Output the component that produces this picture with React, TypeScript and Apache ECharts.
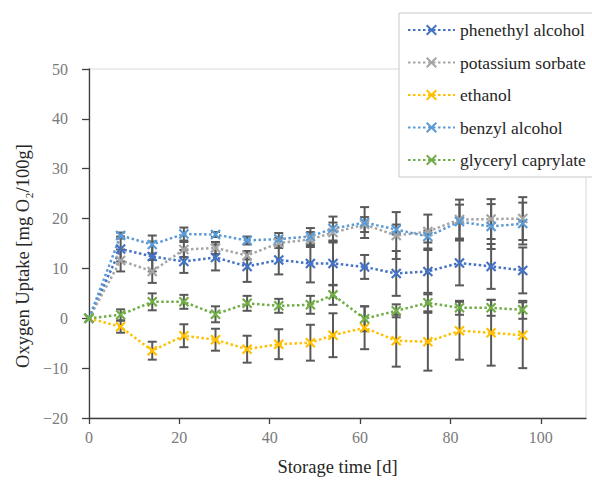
import React, { useEffect, useRef } from "react";
import * as echarts from "echarts";

const days = [0, 7, 14, 21, 28, 35, 42, 49, 54, 61, 68, 75, 82, 89, 96];

const phenethyl = [0, 13.9, 12.4, 11.4, 12.2, 10.4, 11.7, 11.0, 11.0, 10.3, 9.0, 9.4, 11.1, 10.4, 9.6];
const phenethylErr = [0, 2.5, 3.0, 2.3, 2.6, 3.1, 2.9, 3.8, 4.4, 2.4, 4.5, 4.3, 4.5, 4.5, 4.6];

const potassium = [0, 11.6, 9.4, 13.8, 14.1, 12.6, 15.1, 15.8, 17.2, 18.8, 16.6, 17.4, 19.8, 19.9, 20.0];
const potassiumErr = [0, 2.2, 2.3, 1.5, 1.2, 0.8, 1.0, 1.5, 2.0, 1.5, 4.7, 3.4, 4.0, 4.0, 4.3];

const ethanol = [0, -1.7, -6.5, -3.5, -4.3, -6.2, -5.2, -4.9, -3.4, -1.9, -4.5, -4.7, -2.5, -2.9, -3.4];
const ethanolErr = [0, 1.2, 1.8, 2.3, 2.2, 2.7, 3.0, 3.6, 4.4, 4.3, 5.2, 5.8, 5.8, 6.6, 6.6];

const benzyl = [0, 16.6, 14.8, 16.9, 16.8, 15.6, 15.9, 16.4, 18.0, 19.2, 17.8, 16.4, 19.4, 18.4, 19.0];
const benzylErr = [0, 0.6, 1.8, 1.3, 0.5, 0.8, 1.2, 1.7, 2.4, 3.1, 1.0, 1.2, 3.4, 4.5, 4.2];

const glyceryl = [0, 0.7, 3.3, 3.3, 0.8, 3.0, 2.5, 2.7, 4.7, -0.1, 1.5, 3.1, 2.1, 2.1, 1.7];
const glycerylErr = [0, 1.1, 1.7, 1.4, 1.6, 1.5, 1.4, 1.8, 2.0, 2.5, 1.3, 1.7, 1.4, 1.6, 1.8];

const seriesNames = ["phenethyl alcohol", "potassium sorbate", "ethanol", "benzyl alcohol", "glyceryl caprylate"];
const seriesColors = ["#4472C4", "#A5A5A5", "#FFC000", "#5B9BD5", "#70AD47"];
const seriesValues = [phenethyl, potassium, ethanol, benzyl, glyceryl];
const seriesErrors = [phenethylErr, potassiumErr, ethanolErr, benzylErr, glycerylErr];

const xTicks = [0, 20, 40, 60, 80, 100];

const FONT = "Liberation Serif";
const X_SYMBOL = "path://M0,0L10,10M0,10L10,0";

export default function App() {
  const ref = useRef<HTMLDivElement>(null);

  useEffect(() => {
    if (!ref.current) return;
    const chart = echarts.init(ref.current, null, { renderer: "svg" });

    const errorSeries = seriesNames.map((name, si) => ({
      type: "custom",
      name: "err-" + name,
      z: 1,
      silent: true,
      data: days.map((d, i) => [d, seriesValues[si][i], seriesErrors[si][i]]),
      encode: { x: 0, y: 0 },
      renderItem: (params: any, api: any) => {
        const x = api.value(0);
        const y = api.value(1);
        const e = api.value(2);
        if (!e) return { type: "group", children: [] };
        const top = api.coord([x, y + e]);
        const bot = api.coord([x, y - e]);
        const hw = 4.5;
        const style = { stroke: "#595959", lineWidth: 2 };
        return {
          type: "group",
          children: [
            { type: "line", shape: { x1: top[0], y1: top[1], x2: bot[0], y2: bot[1] }, style },
            { type: "line", shape: { x1: top[0] - hw, y1: top[1], x2: top[0] + hw, y2: top[1] }, style },
            { type: "line", shape: { x1: bot[0] - hw, y1: bot[1], x2: bot[0] + hw, y2: bot[1] }, style },
          ],
        };
      },
    }));

    const lineSeries = seriesNames.map((name, si) => ({
      type: "line",
      name,
      z: 3,
      data: days.map((d, i) => [d, seriesValues[si][i]]),
      symbol: X_SYMBOL,
      symbolSize: 9,
      showAllSymbol: true,
      lineStyle: { color: seriesColors[si], width: 2.5, type: [2.5, 2.5] },
      itemStyle: { color: seriesColors[si], borderColor: seriesColors[si], borderWidth: 2.2 },
    }));

    chart.setOption({
      animation: false,
      backgroundColor: "#ffffff",
      grid: {
        left: 89,
        right: 6,
        top: 69,
        bottom: 61,
        show: true,
        borderColor: "#d9d9d9",
        borderWidth: 1,
      },
      legend: {
        data: seriesNames,
        orient: "vertical",
        left: 399,
        top: 13,
        padding: [8, 40, 8, 8],
        itemGap: 14.5,
        itemWidth: 47,
        itemHeight: 12,
        backgroundColor: "#ffffff",
        borderColor: "#c8c8c8",
        borderWidth: 1,
        textStyle: { fontFamily: FONT, fontSize: 17.5, color: "#262626" },
      },
      xAxis: {
        type: "value",
        min: 0,
        max: 110,
        interval: 20,
        name: "Storage time [d]",
        nameLocation: "middle",
        nameGap: 39,
        nameTextStyle: { fontFamily: FONT, fontSize: 18.5, color: "#262626" },
        splitLine: { show: false },
        axisLine: { onZero: false, lineStyle: { color: "#404040", width: 1.3 } },
        axisTick: { show: true, length: 6, customValues: xTicks, lineStyle: { color: "#404040", width: 1.3 } },
        axisLabel: {
          customValues: xTicks,
          margin: 11,
          fontFamily: FONT,
          fontSize: 16,
          color: "#7a7a7a",
        },
      },
      yAxis: {
        type: "value",
        min: -20,
        max: 50,
        interval: 10,
        name: "Oxygen Uptake [mg O\u2082/100g]",
        nameLocation: "middle",
        nameGap: 57,
        nameTextStyle: { fontFamily: FONT, fontSize: 18.5, color: "#262626", padding: [0, 25, 0, 0] },
        splitLine: { show: false },
        axisLine: { show: true, onZero: false, lineStyle: { color: "#404040", width: 1.3 } },
        axisTick: { show: true, length: 7, lineStyle: { color: "#404040", width: 1.3 } },
        axisLabel: {
          margin: 21,
          fontFamily: FONT,
          fontSize: 16,
          color: "#7a7a7a",
          formatter: (v: number) => (v < 0 ? "\u2212" + Math.abs(v) : String(v)),
        },
      },
      series: [...errorSeries, ...lineSeries],
    });

    return () => chart.dispose();
  }, []);

  return (
    <div
      ref={ref}
      style={{ position: "fixed", left: 0, top: 0, width: 592, height: 481, background: "#fff" }}
    />
  );
}
